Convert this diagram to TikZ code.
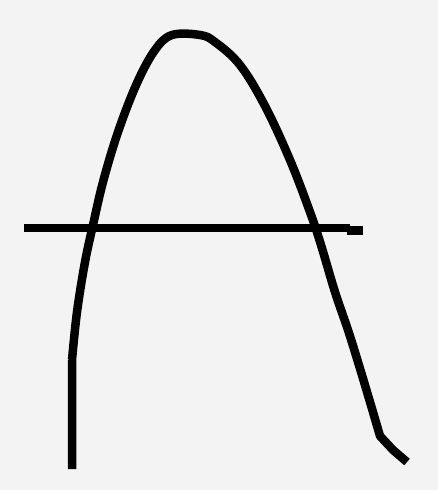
\documentclass[tikz,border=0pt]{standalone}
\definecolor{paper}{HTML}{F3F3F3}
\tikzset{stroke/.style={line width=8.5pt, black, line join=round}}
\begin{document}
\begin{tikzpicture}[x=1pt,y=-1pt]
    \fill[paper] (0,0) rectangle (438,490);
    \useasboundingbox (0,0) rectangle (438,490);
    % the arch
    \draw[stroke] (72,469) -- (72,360)
      plot[smooth,tension=0.6] coordinates {(72,360) (77,312) (85,262) (93,225)
        (103,182) (118,132) (137,83) (155,50) (172,35) (200,35) (215,42)
        (240,65) (265,106) (290,160) (310,212) (321,245) (335,292)
        (348,330) (358,362) (370,402) (380,436)}
      -- (393,450) -- (407,462);
    % the cross bar
    \draw[stroke] (24,228) -- (350,228);
    \fill (347,226) rectangle (363,235);
\end{tikzpicture}
\end{document}
